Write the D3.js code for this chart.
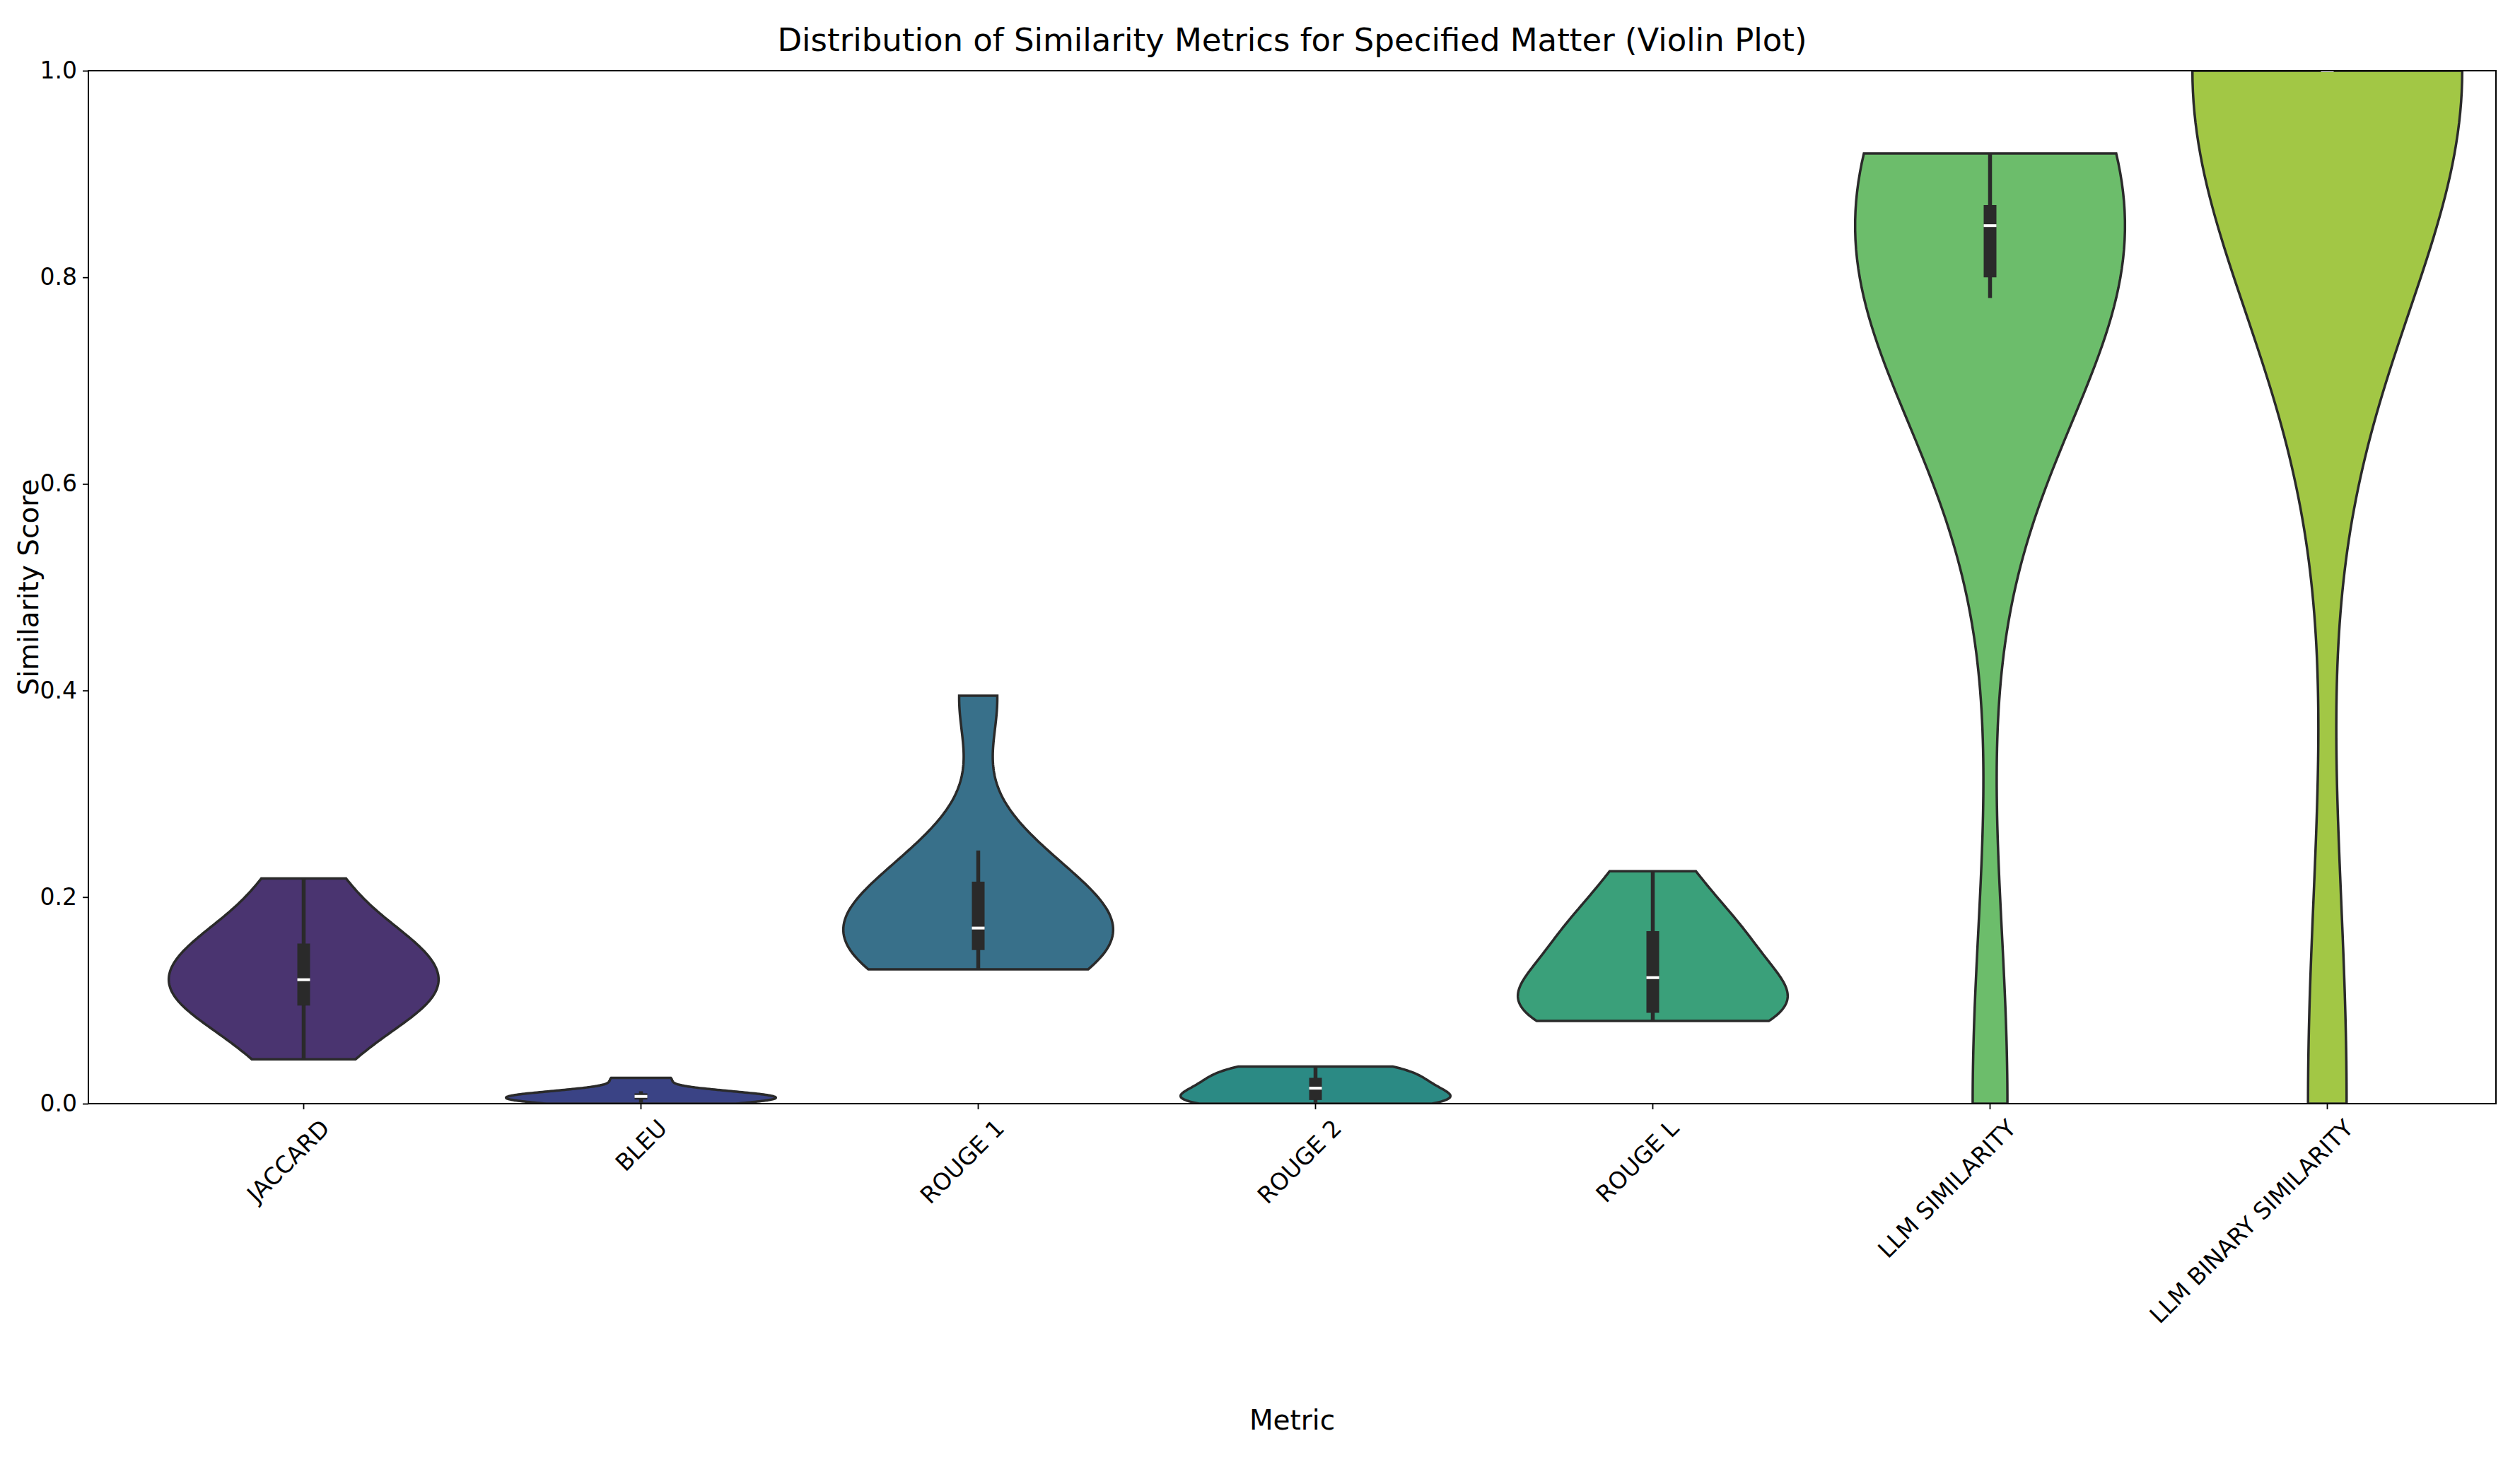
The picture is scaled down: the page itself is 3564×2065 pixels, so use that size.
<!DOCTYPE html>
<html><head><meta charset="utf-8">
<script src="https://cdn.jsdelivr.net/npm/d3@7"></script>
<style>body{margin:0;background:#fff}text{font-family:"DejaVu Sans",sans-serif}</style>
</head><body><div id="container"></div>
<script>
const metrics = ['JACCARD', 'BLEU', 'ROUGE 1', 'ROUGE 2', 'ROUGE L', 'LLM SIMILARITY', 'LLM BINARY SIMILARITY']
const jaccard = [0.043, 0.085, 0.095, 0.11, 0.12, 0.14, 0.155, 0.17, 0.218]
const bleu = [0.0, 0.003, 0.005, 0.007, 0.008, 0.012, 0.025]
const rouge1 = [0.13, 0.14, 0.145, 0.16, 0.17, 0.17, 0.2, 0.22, 0.245, 0.395]
const rouge2 = [0.0, 0.002, 0.005, 0.015, 0.02, 0.03, 0.036]
const rougeL = [0.08, 0.083, 0.088, 0.105, 0.122, 0.14, 0.167, 0.18, 0.225]
const llmSim = [0.0, 0.78, 0.8, 0.82, 0.85, 0.86, 0.87, 0.9, 0.92]
const llmBinary = [0, 1, 1, 1, 1, 1, 1, 1]
const series = [jaccard, bleu, rouge1, rouge2, rougeL, llmSim, llmBinary]
const colors = ['#4a3470', '#3a4385', '#38708a', '#2b8a84', '#3aa07a', '#6cbd6b', '#a2c745']
const yTicks = [0, 0.2, 0.4, 0.6, 0.8, 1.0]

const W = 3564, H = 2065
const margin = {top: 100, right: 34, bottom: 504, left: 125}
const width = W - margin.left - margin.right
const height = H - margin.top - margin.bottom

const svg = d3.select('#container').append('svg').attr('width', W).attr('height', H)
const root = svg.append('g').attr('transform', `translate(${margin.left},${margin.top})`)

const x = d3.scaleBand().domain(metrics).range([66, 66 + 477 * 7])
const y = d3.scaleLinear().domain([0, 1]).range([height, 0])

root.append('clipPath').attr('id', 'clip').append('rect').attr('width', width).attr('height', height)
const plot = root.append('g').attr('clip-path', 'url(#clip)')

function kde(vals) {
    const n = vals.length
    const sd = d3.deviation(vals)
    const bw = sd * Math.pow(n, -1 / 5)
    const lo = d3.min(vals), hi = d3.max(vals)
    return d3.range(100).map(i => {
        const v = lo + (hi - lo) * i / 99
        const d = d3.sum(vals, t => Math.exp(-0.5 * ((v - t) / bw) ** 2)) / (n * bw * Math.sqrt(2 * Math.PI))
        return [v, d]
    })
}

series.forEach((vals, i) => {
    const cx = x(metrics[i]) + x.bandwidth() / 2
    const dens = kde(vals)
    const maxD = d3.max(dens, d => d[1])
    const w = d3.scaleLinear().domain([0, maxD]).range([0, x.bandwidth() * 0.4])
    const area = d3.area().y(d => y(d[0])).x0(d => cx - w(d[1])).x1(d => cx + w(d[1]))
    plot.append('path').datum(dens).attr('d', area)
        .attr('fill', colors[i]).attr('stroke', '#2a2a2a').attr('stroke-width', 3.5)

    const s = vals.slice().sort(d3.ascending)
    const q1 = d3.quantile(s, 0.25), q3 = d3.quantile(s, 0.75), med = d3.quantile(s, 0.5)
    const iqr = q3 - q1
    const wlo = d3.min(s.filter(v => v >= q1 - 1.5 * iqr)), whi = d3.max(s.filter(v => v <= q3 + 1.5 * iqr))
    plot.append('line').attr('x1', cx).attr('x2', cx).attr('y1', y(wlo)).attr('y2', y(whi))
        .attr('stroke', '#2a2a2a').attr('stroke-width', 5.5)
    plot.append('line').attr('x1', cx).attr('x2', cx).attr('y1', y(q1)).attr('y2', y(q3))
        .attr('stroke', '#2a2a2a').attr('stroke-width', 18)
    plot.append('line').attr('x1', cx - 9).attr('x2', cx + 9).attr('y1', y(med)).attr('y2', y(med))
        .attr('stroke', '#fff').attr('stroke-width', 4)
})

// axes
const yAxis = root.append('g').call(d3.axisLeft(y).tickValues(yTicks).tickFormat(d3.format('.1f')).tickSize(8).tickPadding(8))
yAxis.selectAll('text').attr('font-size', 33).attr('fill', '#000')
const xAxis = root.append('g').attr('transform', `translate(0,${height})`).call(d3.axisBottom(x).tickSize(8))
xAxis.selectAll('text').attr('font-size', 33).attr('fill', '#000')
    .attr('text-anchor', 'end').attr('transform', 'translate(10,8) rotate(-45)').attr('dx', '0em').attr('dy', '0.9em')
root.selectAll('.domain').remove()
root.selectAll('.tick line').attr('stroke', '#000').attr('stroke-width', 1.8)
root.append('rect').attr('width', width).attr('height', height).attr('fill', 'none').attr('stroke', '#000').attr('stroke-width', 2)

svg.append('text').attr('x', margin.left + width / 2).attr('y', 72).attr('text-anchor', 'middle')
    .attr('font-size', 45).text('Distribution of Similarity Metrics for Specified Matter (Violin Plot)')
svg.append('text').attr('x', margin.left + width / 2).attr('y', 2022).attr('text-anchor', 'middle')
    .attr('font-size', 39).text('Metric')
svg.append('text').attr('transform', `translate(54,${margin.top + height / 2}) rotate(-90)`).attr('text-anchor', 'middle')
    .attr('font-size', 39).text('Similarity Score')
</script></body></html>
